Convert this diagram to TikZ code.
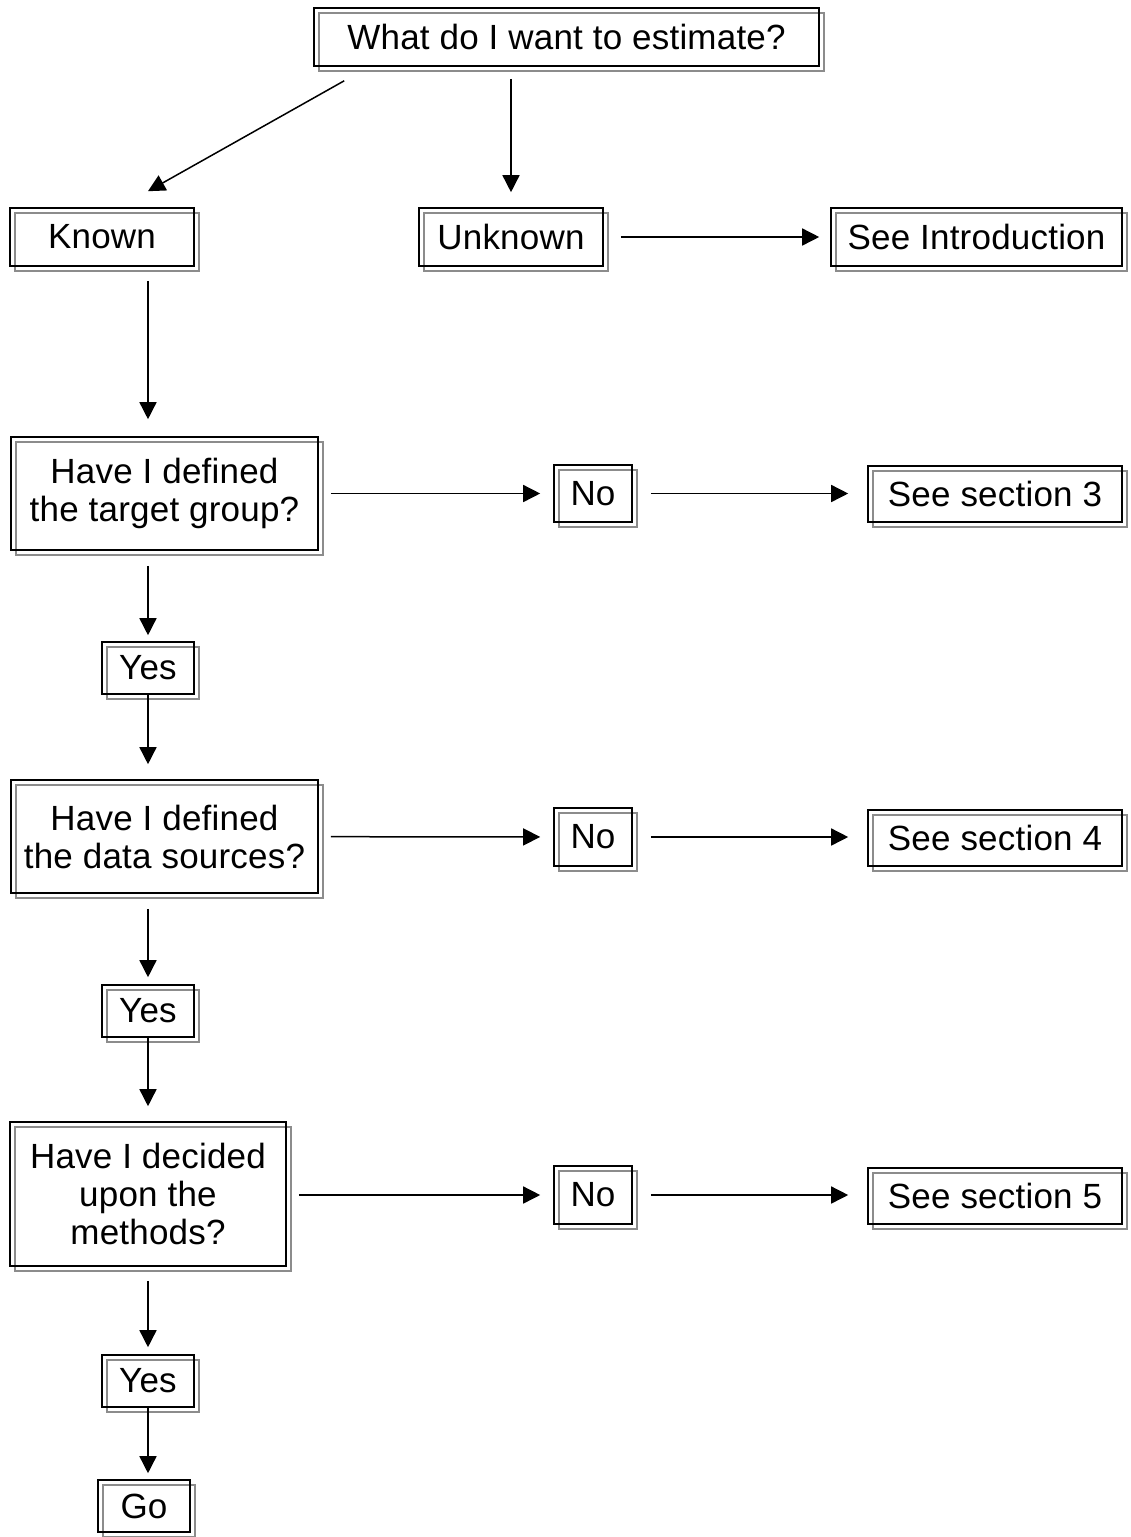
\documentclass[tikz,border=0pt]{standalone}
\usepackage{fontspec}
\setmainfont[LetterSpace=0.6]{Liberation Sans}
\usetikzlibrary{arrows.meta,shadows,calc}
\begin{document}
\begin{tikzpicture}[x=1pt,y=-1pt,
  box/.style={draw=black,line width=1.6pt,inner sep=0pt,align=center,
    font=\fontsize{35}{38}\selectfont,
    general shadow={shadow xshift=5pt,shadow yshift=-5pt,draw=black!45,line width=1.6pt,fill=none}},
  arr/.style={line width=1.5pt,-{Triangle[length=17pt,width=17pt]}}]
\useasboundingbox (0,0) rectangle (1131,1537);
\node[box,minimum width=505pt,minimum height=58pt] (q) at (566.5,37) {What do I want to estimate?};
\node[box,minimum width=184pt,minimum height=58pt] (known) at (102,237) {Known};
\node[box,minimum width=184pt,minimum height=58pt] (unknown) at (511,237) {Unknown};
\node[box,minimum width=291pt,minimum height=58pt] (intro) at (976.5,237) {See Introduction};
\node[box,minimum width=307pt,minimum height=113pt] (t1) at (164.5,493.5) {Have I defined\\the target group?};
\node[box,minimum width=78pt,minimum height=57pt] (no1) at (593,493.5) {No};
\node[box,minimum width=254pt,minimum height=56pt] (s3) at (995,494) {See section 3};
\node[box,minimum width=92pt,minimum height=52pt] (yes1) at (148,668) {Yes};
\node[box,minimum width=307pt,minimum height=113pt] (t2) at (164.5,836.5) {Have I defined\\the data sources?};
\node[box,minimum width=78pt,minimum height=58pt] (no2) at (593,837) {No};
\node[box,minimum width=254pt,minimum height=56pt] (s4) at (995,838) {See section 4};
\node[box,minimum width=92pt,minimum height=52pt] (yes2) at (148,1011) {Yes};
\node[box,minimum width=276pt,minimum height=144pt] (t3) at (148,1194) {Have I decided\\upon the\\methods?};
\node[box,minimum width=78pt,minimum height=58pt] (no3) at (593,1195) {No};
\node[box,minimum width=254pt,minimum height=56pt] (s5) at (995,1196) {See section 5};
\node[box,minimum width=92pt,minimum height=52pt] (yes3) at (148,1381) {Yes};
\node[box,minimum width=92pt,minimum height=52pt] (go) at (144,1506) {Go};
% connectors
\draw[arr] ($(q.south west)+(31,14)$) -- ($(known.north)+(46,-16)$);
\draw[arr,shorten <=12pt,shorten >=15pt] (unknown.north |- q.south) -- (unknown.north);
\draw[arr,shorten <=17pt,shorten >=11pt] (unknown) -- (intro);
\draw[arr,shorten <=14pt,shorten >=17pt] (known.south -| yes1.north) -- (t1.north -| yes1.north);
\draw[arr,shorten <=12pt,shorten >=13pt] (t1) -- (no1);
\draw[arr,shorten <=18pt,shorten >=19pt] (no1) -- (s3.west |- no1.east);
\draw[arr,shorten <=15pt,shorten >=6pt] (t1.south -| yes1.north) -- (yes1.north);
\draw[arr,shorten >=15pt] (yes1.south) -- (t2.north -| yes1.south);
\draw[arr,shorten <=12pt,shorten >=13pt] (t2) -- (no2);
\draw[arr,shorten <=18pt,shorten >=19pt] (no2) -- (s4.west |- no2.east);
\draw[arr,shorten <=15pt,shorten >=7pt] (t2.south -| yes2.north) -- (yes2.north);
\draw[arr,shorten >=15pt] (yes2.south) -- (t3.north -| yes2.south);
\draw[arr,shorten <=12pt,shorten >=13pt] (t3.east |- no3.west) -- (no3.west);
\draw[arr,shorten <=18pt,shorten >=19pt] (no3) -- (s5.west |- no3.east);
\draw[arr,shorten <=14pt,shorten >=7pt] (t3.south -| yes3.north) -- (yes3.north);
\draw[arr,shorten >=6pt] (yes3.south) -- (go.north -| yes3.south);
\end{tikzpicture}
\end{document}
